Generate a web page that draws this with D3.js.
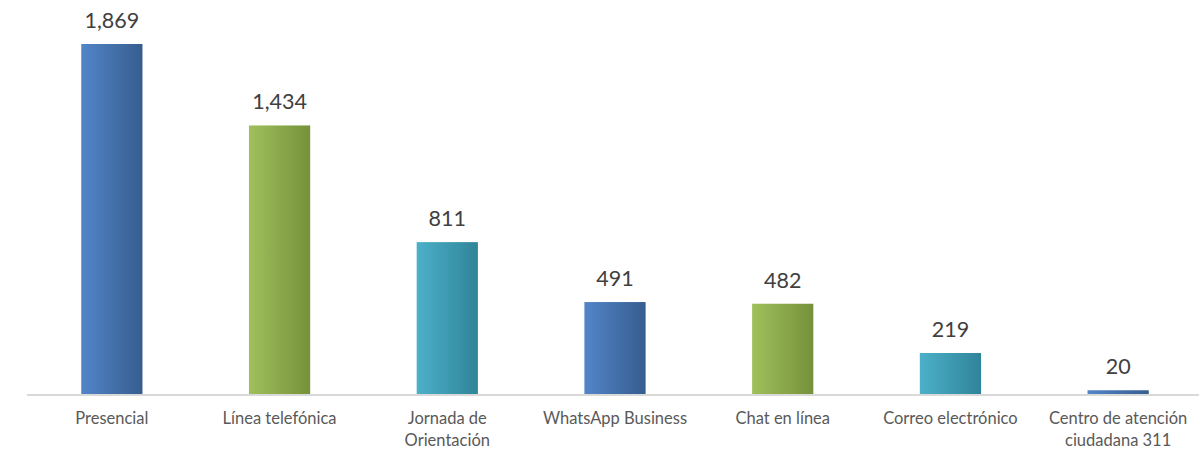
<!DOCTYPE html>
<html>
<head>
<meta charset="utf-8">
<script src="https://cdn.jsdelivr.net/npm/d3@7"></script>
<style>
  body { margin: 0; background: #fff; }
  text { font-family: Lato, "Open Sans", sans-serif; }
</style>
</head>
<body>
<div id="chart"></div>
<script>
// Data
var categories = ["Presencial", "Línea telefónica", "Jornada de Orientación", "WhatsApp Business",
                  "Chat en línea", "Correo electrónico", "Centro de atención ciudadana 311"];
var labelLines = [["Presencial"], ["Línea telefónica"], ["Jornada de", "Orientación"], ["WhatsApp Business"],
                  ["Chat en línea"], ["Correo electrónico"], ["Centro de atención", "ciudadana 311"]];
var values = [1869, 1434, 811, 491, 482, 219, 20];
var colorKeys = ["blue", "green", "teal", "blue", "green", "teal", "blue"];

var gradients = {
  blue:  ["#5285c9", "#365d8e"],
  green: ["#9fc05c", "#76913a"],
  teal:  ["#4cb0c9", "#2f8499"]
};

var W = 1199, H = 452;
var margin = {top: 44, right: -3, bottom: 58, left: 28};
var width = W - margin.left - margin.right;
var height = H - margin.top - margin.bottom;

var svg = d3.select("#chart").append("svg")
    .attr("width", W)
    .attr("height", H);

var defs = svg.append("defs");
Object.keys(gradients).forEach(function(k) {
  var g = defs.append("linearGradient")
      .attr("id", "grad-" + k)
      .attr("x1", "0%").attr("x2", "100%")
      .attr("y1", "0%").attr("y2", "0%");
  g.append("stop").attr("offset", "0%").attr("stop-color", gradients[k][0]);
  g.append("stop").attr("offset", "100%").attr("stop-color", gradients[k][1]);
});

var g = svg.append("g")
    .attr("transform", "translate(" + margin.left + "," + margin.top + ")");

var xScale = d3.scaleBand()
    .domain(categories)
    .range([0, width])
    .paddingInner(0.635)
    .paddingOuter(0.3175);

var yScale = d3.scaleLinear()
    .domain([0, 1869])
    .range([height, 0]);

// bars
g.selectAll("rect.bar")
  .data(values)
  .enter().append("rect")
    .attr("class", "bar")
    .attr("x", function(d, i) { return xScale(categories[i]); })
    .attr("y", function(d) { return yScale(d); })
    .attr("width", xScale.bandwidth())
    .attr("height", function(d) { return height - yScale(d); })
    .attr("fill", function(d, i) { return "url(#grad-" + colorKeys[i] + ")"; });

// axis line
g.append("line")
    .attr("x1", -1).attr("x2", width)
    .attr("y1", height + 1).attr("y2", height + 1)
    .attr("stroke", "#d9d9d9")
    .attr("stroke-width", 2);

// value labels
g.selectAll("text.value")
  .data(values)
  .enter().append("text")
    .attr("class", "value")
    .attr("x", function(d, i) { return xScale(categories[i]) + xScale.bandwidth() / 2; })
    .attr("y", function(d) { return yScale(d) - 16; })
    .attr("text-anchor", "middle")
    .attr("fill", "#404040")
    .attr("font-size", "21.5px")
    .text(function(d) { return d3.format(",")(d); });

// category labels
var cat = g.selectAll("text.cat")
  .data(labelLines)
  .enter().append("text")
    .attr("class", "cat")
    .attr("x", function(d, i) { return xScale(categories[i]) + xScale.bandwidth() / 2; })
    .attr("y", height + 30)
    .attr("text-anchor", "middle")
    .attr("fill", "#595959")
    .attr("font-size", "16.5px");

cat.each(function(lines) {
  var t = d3.select(this);
  var x = t.attr("x");
  lines.forEach(function(l, j) {
    t.append("tspan")
      .attr("x", x)
      .attr("dy", j === 0 ? 0 : 22)
      .text(l);
  });
});
</script>
</body>
</html>
